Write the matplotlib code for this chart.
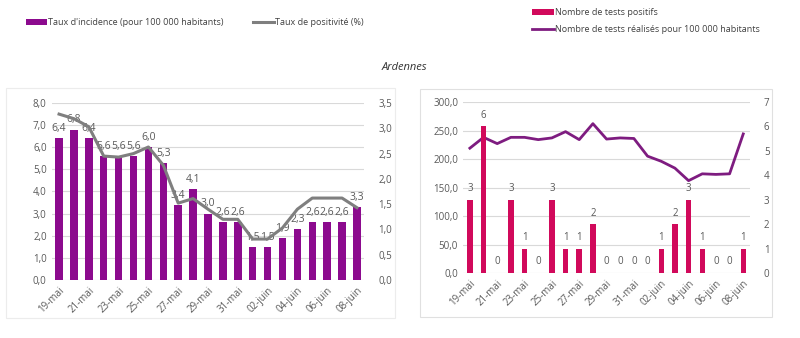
import matplotlib.pyplot as plt
import numpy as np
from matplotlib.patches import Rectangle

plt.rcParams['font.family'] = ['Open Sans', 'DejaVu Sans']

jours = ['19-mai', '20-mai', '21-mai', '22-mai', '23-mai', '24-mai', '25-mai',
         '26-mai', '27-mai', '28-mai', '29-mai', '30-mai', '31-mai', '01-juin',
         '02-juin', '03-juin', '04-juin', '05-juin', '06-juin', '07-juin', '08-juin']

# taux d'incidence (pour 100 000 hab.) et taux de positivite (%)
incidence = [6.4, 6.8, 6.4, 5.6, 5.6, 5.6, 6.0, 5.3, 3.4, 4.1, 3.0,
             2.6, 2.6, 1.5, 1.5, 1.9, 2.3, 2.6, 2.6, 2.6, 3.3]
positivite = [3.28, 3.19, 3.03, 2.45, 2.43, 2.50, 2.63, 2.27, 1.52, 1.61, 1.40,
              1.20, 1.20, 0.81, 0.81, 1.03, 1.40, 1.62, 1.62, 1.62, 1.43]

# tests positifs et tests realises pour 100 000 hab.
positifs = [3, 6, 0, 3, 1, 0, 3, 1, 1, 2, 0, 0, 0, 0, 1, 2, 3, 1, 0, 0, 1]
realises = [219, 238, 227, 238, 238, 234, 237, 248, 234, 262, 235,
            237, 236, 205, 196, 184, 162, 174, 173, 174, 244]

gris = '#595959'
grille = '#d9d9d9'
violet = '#8c0a8e'
rose = '#d1095b'
prune = '#7e1c80'

x = np.arange(len(jours))

fig = plt.figure(figsize=(8, 3.38), dpi=100)

# cadres des deux graphiques
fig.patches.append(Rectangle((6/800, 20/338), 389/800, 230/338, transform=fig.transFigure,
                             fill=False, edgecolor='#ececec', lw=0.8))
fig.patches.append(Rectangle((420/800, 21/338), 352/800, 228/338, transform=fig.transFigure,
                             fill=False, edgecolor='#e0e0e0', lw=0.8))

def habiller(ax):
    for s in ax.spines.values():
        s.set_visible(False)
    ax.tick_params(length=0, labelsize=7, labelcolor=gris)

# --- graphique de gauche
ax1 = fig.add_axes([0.0645, 0.1716, 0.391, 0.5237])
barres = ax1.bar(x, incidence, width=0.5, color=violet, zorder=2)
ax1.set_ylim(0, 8)
ax1.set_yticks(np.arange(0, 8.1, 1))
ax1.set_yticklabels([('%.1f' % v).replace('.', ',') for v in np.arange(0, 8.1, 1)])
ax1.yaxis.grid(True, color=grille, lw=0.8, zorder=0)
ax1.set_axisbelow(True)
ax1.set_xlim(-0.5, len(jours) - 0.5)
ax1.set_xticks(x[::2])
ax1.set_xticklabels(jours[::2], rotation=45, ha='right', rotation_mode='anchor')
habiller(ax1)
for xi, v in zip(x, incidence):
    ax1.annotate(('%.1f' % v).replace('.', ','), (xi, v), xytext=(0, 3),
                 textcoords='offset points', ha='center', va='bottom',
                 fontsize=7.5, color=gris)

ax1b = ax1.twinx()
ligne_pos, = ax1b.plot(x, positivite, color='#7f7f7f', lw=2.2)
ax1b.set_ylim(0, 3.5)
ax1b.set_yticks(np.arange(0, 3.6, 0.5))
ax1b.set_yticklabels([('%.1f' % v).replace('.', ',') for v in np.arange(0, 3.6, 0.5)])
habiller(ax1b)
ax1b.tick_params(axis='y', pad=10)

# --- graphique de droite
ax2 = fig.add_axes([0.5788, 0.1923, 0.3588, 0.5059])
ligne_tests, = ax2.plot(x, realises, color=prune, lw=2)
ax2.set_ylim(0, 300)
ax2.set_yticks(np.arange(0, 301, 50))
ax2.set_yticklabels([('%.1f' % v).replace('.', ',') for v in np.arange(0, 301, 50)])
ax2.yaxis.grid(True, color=grille, lw=0.8, zorder=0)
ax2.set_axisbelow(True)
ax2.set_xlim(-0.5, len(jours) - 0.5)
ax2.set_xticks(x[::2])
ax2.set_xticklabels(jours[::2], rotation=45, ha='right', rotation_mode='anchor')
habiller(ax2)

ax2b = ax2.twinx()
barres_pos = ax2b.bar(x, positifs, width=0.4, color=rose)
ax2b.set_ylim(0, 7)
ax2b.set_yticks(range(0, 8))
habiller(ax2b)
ax2b.tick_params(axis='y', pad=10)
for xi, v in zip(x, positifs):
    ax2b.annotate(str(v), (xi, v), xytext=(0, 4), textcoords='offset points',
                  ha='center', va='bottom', fontsize=7, color=gris)

# legendes et titre
fig.legend([barres, ligne_pos],
           ["Taux d'incidence (pour 100 000 habitants)", 'Taux de positivité (%)'],
           loc='center left', bbox_to_anchor=(0.022, 0.932), ncol=2, frameon=False,
           fontsize=6.5, handlelength=2.4, handletextpad=0.1, columnspacing=3.2,
           labelcolor='#404040')
fig.legend([barres_pos, ligne_tests],
           ['Nombre de tests positifs', 'Nombre de tests réalisés pour 100 000 habitants'],
           loc='upper left', bbox_to_anchor=(0.655, 1.0), ncol=1, frameon=False,
           fontsize=6.5, handlelength=2.4, handletextpad=0.1, labelspacing=0.9,
           labelcolor='#404040')
fig.text(0.506, (338 - 68) / 338, 'Ardennes', ha='center', va='center',
         fontsize=8, style='italic', color='#333333')

fig.savefig('out.png', dpi=100)
